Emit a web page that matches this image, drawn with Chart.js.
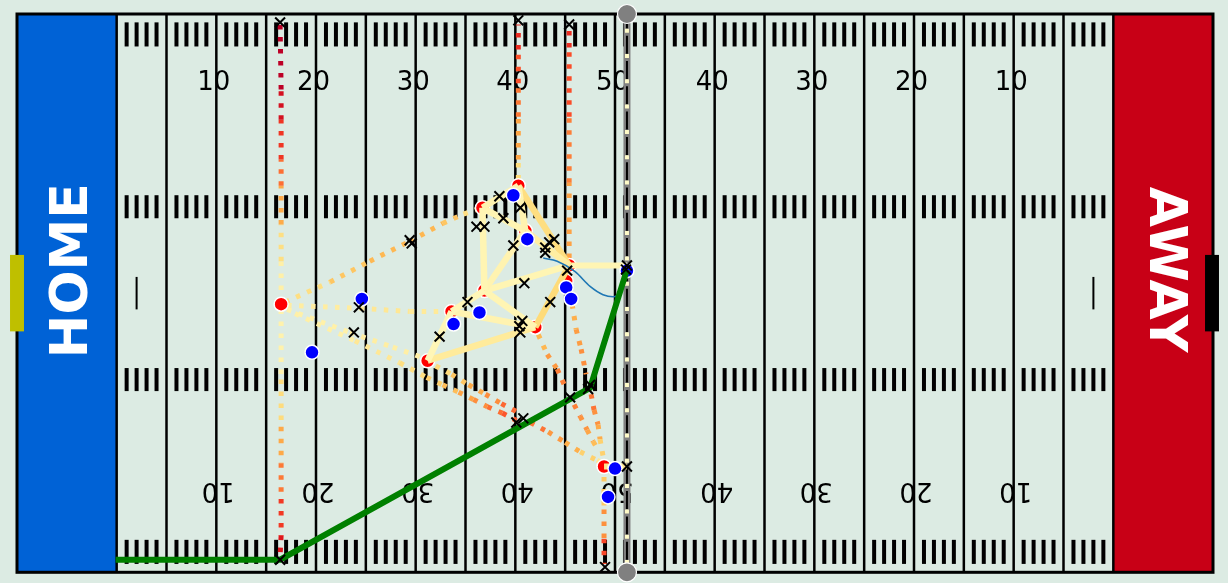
<!DOCTYPE html>
<html>
<head>
<meta charset="utf-8">
<script src="https://cdn.jsdelivr.net/npm/chart.js@4.4.1/dist/chart.umd.min.js"></script>
<style>
html,body{margin:0;padding:0;background:#dcebe3;overflow:hidden;}
canvas{display:block;}
</style>
</head>
<body>
<canvas id="c" width="1228" height="583"></canvas>
<script>
// ---------------- DATA (field coordinates: x yards 0-120, y yards 0-53.3) ----------------
const fieldLength = 120;
const fieldWidth = 53.3;
const yardLines = [10,15,20,25,30,35,40,45,50,55,60,65,70,75,80,85,90,95,100,105,110];
const hashOffsets = [1,2,3,4];
const hashRows = [[0.8,3.1],[17.3,19.5],[33.8,36.0],[50.2,52.5]];
const numberYards = [20,30,40,50,60,70,80,90,100];
const numberLabels = ['10','20','30','40','50','40','30','20','10'];
const patMarks = [12,108];
const endZoneLabels = ['HOME','AWAY'];

const offenseX = [26.5, 41.2, 43.6, 46.9, 46.7, 50.3, 51.0, 55.4, 52.0, 58.9, 55.1];
const offenseY = [25.6, 20.2, 24.9, 26.9, 34.8, 36.9, 32.6, 29.3, 23.4, 10.1, 27.8];

const defenseX = [34.6, 29.6, 43.8, 46.4, 49.8, 51.2, 55.1, 55.6, 61.2, 60.0, 59.3];
const defenseY = [26.1, 21.0, 23.7, 24.8, 36.0, 31.8, 27.2, 26.1, 28.8, 9.9, 7.2];

const endX = [26.4, 50.3, 55.4, 59.0, 61.2, 61.2, 61.1, 34.3, 33.8, 42.4, 39.4, 39.6, 45.2, 46.1, 46.9, 48.4, 48.8, 50.5, 49.8, 50.9, 50.7, 50.4, 50.5, 53.5, 53.0, 53.4, 53.9, 53.0, 55.2, 57.5, 57.3, 55.5, 50.1, 50.8, 26.4];
const endY = [52.5, 52.7, 52.3, 0.5, 10.1, 29.3, 28.9, 25.3, 22.9, 22.5, 31.7, 31.4, 25.8, 33.0, 33.0, 35.9, 33.8, 34.8, 31.2, 27.6, 24.0, 23.5, 22.9, 25.8, 30.5, 31.5, 31.8, 31.0, 28.8, 17.9, 17.5, 16.7, 14.3, 14.7, 1.2];

const ballX = [9.9, 26.4, 57.5, 61.2];
const ballY = [1.2, 1.2, 17.6, 28.9];

const curveX = [52.8, 54.2, 56.0, 57.5, 58.8, 59.8, 60.5, 61.2];
const curveY = [30.0, 29.7, 28.7, 27.3, 26.5, 26.3, 26.7, 28.7];

const scrimmageX = 61.2;

// routes: [x, y, time fraction]
const route1 = [[26.5,25.8,0.08],[26.5,29.7,0.13],[26.5,33.2,0.3],[26.5,36.9,0.5],[26.5,39.4,0.62],[26.5,43.2,0.75],[26.5,46.1,0.85],[26.4,52.3,0.9]];
const route2 = [[26.5,25.1,0.05],[26.5,18.4,0.13],[26.5,13.9,0.33],[26.5,10.4,0.48],[26.5,7.0,0.6],[26.5,3.5,0.75],[26.4,1.6,0.78]];
const route3 = [[26.9,25.8,0.15],[31.4,27.7,0.28],[35.4,29.7,0.34],[39.4,31.6,0.37],[42.7,33.3,0.35],[44.8,34.2,0.27],[46.3,34.7,0.15]];
const route4 = [[27.1,25.5,0.1],[34.4,25.2,0.15],[39.4,24.9,0.17],[43.0,24.9,0.12]];
const route5 = [[27.1,25.1,0.08],[33.4,22.9,0.12],[37.7,21.5,0.12],[40.7,20.5,0.1]];
const route6 = [[27.9,24.7,0.08],[33.9,22.1,0.13],[38.4,20.0,0.18],[41.1,18.6,0.25],[42.7,17.9,0.3],[44.3,17.2,0.38],[45.8,16.5,0.47],[47.2,15.8,0.52],[48.7,15.2,0.6],[50.1,14.5,0.62]];
const route7 = [[42.0,19.7,0.2],[43.6,18.9,0.27],[45.3,17.9,0.35],[47.0,17.0,0.45],[48.6,16.1,0.55],[50.2,15.3,0.6]];
const route8 = [[52.3,22.7,0.3],[53.2,20.8,0.42],[54.2,19.4,0.5],[55.2,17.3,0.55]];
const route9 = [[51.5,14.3,0.6],[53.3,13.4,0.5],[55.0,12.4,0.42],[56.5,11.5,0.35],[58.2,10.7,0.2],[58.7,10.4,0.12]];
const route10 = [[57.6,17.0,0.58],[57.9,15.5,0.52],[58.3,14.1,0.45],[58.5,12.7,0.35],[58.8,11.1,0.2]];
const route11 = [[55.4,30.0,0.38],[55.4,37.2,0.48],[55.4,43.5,0.58],[55.4,50.1,0.68],[55.4,52.1,0.72]];
const route12 = [[50.3,37.5,0.12],[50.3,39.4,0.33],[50.3,43.5,0.5],[50.3,46.7,0.58],[50.3,49.9,0.66],[50.3,52.3,0.75]];
const route13 = [[55.7,25.6,0.35],[56.1,23.2,0.42],[56.6,21.3,0.47],[57.1,18.9,0.52]];
const route14 = [[55.9,16.0,0.55],[56.5,14.9,0.5],[57.2,13.6,0.45],[57.8,12.5,0.38],[58.4,11.5,0.3]];
const route15 = [[58.9,9.1,0.2],[58.9,6.0,0.4],[58.9,3.2,0.58],[58.9,0.8,0.7]];
const route16 = [[61.2,53.3,0.02],[61.2,0,0.02]];

// dense links between offensive players: [from, to, time fraction]
const links = [[4,5,0.08],[4,3,0.07],[5,6,0.08],[4,6,0.07],[6,7,0.12],[5,7,0.22],[3,6,0.08],[3,7,0.07],[3,2,0.06],[2,1,0.06],[3,8,0.07],[2,8,0.08],[1,8,0.14],[8,7,0.24]];
const snapLink1 = [[55.4,29.3,0.07],[61.2,29.3,0.07]];
const snapLink2 = [[58.9,10.1,0.15],[61.2,10.1,0.2]];

// ---------------- STYLE ----------------
const FIELD_BG = '#dcebe3';
const HOME_COLOR = '#0062d6';
const AWAY_COLOR = '#c80016';
const YLORRD = ['#ffffcc','#ffeda0','#fed976','#feb24c','#fd8d3c','#fc4e2a','#e31a1c','#bd0026','#800026'];

function hexToRgb(h){return [parseInt(h.slice(1,3),16),parseInt(h.slice(3,5),16),parseInt(h.slice(5,7),16)];}
const CM = YLORRD.map(hexToRgb);
function cmap(t){
  t = Math.max(0, Math.min(1, t));
  const p = t*(CM.length-1);
  const i = Math.min(CM.length-2, Math.floor(p));
  const f = p - i;
  const c = CM[i].map((v,k)=>Math.round(v + (CM[i+1][k]-v)*f));
  return `rgb(${c[0]},${c[1]},${c[2]})`;
}

function routeDataset(r, opts){
  return Object.assign({
    type:'scatter',
    data: r.map(p=>({x:p[0], y:p[1]})),
    showLine:true,
    pointRadius:0,
    borderColor: cmap(r[0][2]),
    borderWidth:5,
    borderDash:[4.5,7.5],
    borderCapStyle:'butt',
    segment:{ borderColor: c => cmap((r[c.p0DataIndex][2] + r[c.p1DataIndex][2])/2) },
    order:7
  }, opts||{});
}

const datasets = [];
// gray ball markers at LOS
datasets.push({type:'scatter', data:[{x:scrimmageX,y:fieldWidth},{x:scrimmageX,y:0}], pointRadius:9.5, pointBackgroundColor:'#808080', pointBorderColor:'#ffffff', pointBorderWidth:1.2, order:0, clip:false});
// end points
datasets.push({type:'scatter', data:endX.map((v,i)=>({x:v,y:endY[i]})), pointStyle:'crossRot', pointRadius:7, pointBorderColor:'#000', pointBorderWidth:2, order:1});
// ball path
datasets.push({type:'scatter', data:ballX.map((v,i)=>({x:v,y:ballY[i]})), showLine:true, pointRadius:0, borderColor:'#008000', borderWidth:6, order:2});
// defender curve
datasets.push({type:'scatter', data:curveX.map((v,i)=>({x:v,y:curveY[i]})), showLine:true, pointRadius:0, borderColor:'#1f77b4', borderWidth:1.6, tension:0.4, cubicInterpolationMode:'monotone', order:3});
// defense
datasets.push({type:'scatter', data:defenseX.map((v,i)=>({x:v,y:defenseY[i]})), pointRadius:7, pointBackgroundColor:'#0000ff', pointBorderColor:'#ffffff', pointBorderWidth:1.5, order:4});
// links
links.forEach(l=>{
  const a=l[0], b=l[1];
  datasets.push({type:'scatter', data:[{x:offenseX[a],y:offenseY[a]},{x:offenseX[b],y:offenseY[b]}], showLine:true, pointRadius:0, borderColor:cmap(l[2]), borderWidth:6.5, order:5});
});
[snapLink1, snapLink2].forEach(r=>datasets.push(routeDataset(r,{borderDash:[], borderWidth:6, order:5})));
// offense
datasets.push({type:'scatter', data:offenseX.map((v,i)=>({x:v,y:offenseY[i]})), pointRadius:7, pointBackgroundColor:'#ff0000', pointBorderColor:'#ffffff', pointBorderWidth:1.5, order:6});
// routes
[route1,route2,route3,route4,route5,route6,route7,route8,route9,route10,route11,route12,route13,route14,route15].forEach(r=>datasets.push(routeDataset(r)));
// line of scrimmage: pale squares, black dashes, grey band
datasets.push(routeDataset(route16,{borderWidth:4, borderDash:[4,21.3], borderDashOffset:10.6, segment:{}, borderColor:'#fffbc8', order:8, clip:false}));
datasets.push({type:'scatter', data:[{x:scrimmageX,y:fieldWidth},{x:scrimmageX,y:0}], showLine:true, pointRadius:0, borderColor:'#000', borderWidth:2, borderDash:[18,7.3], borderDashOffset:3.6, order:9});
datasets.push({type:'scatter', data:[{x:scrimmageX,y:fieldWidth},{x:scrimmageX,y:0}], showLine:true, pointRadius:0, borderColor:'#808080', borderWidth:7, order:10});

const fieldPlugin = {
  id:'field',
  beforeDatasetsDraw(chart){
    const {ctx, scales:{x, y}} = chart;
    const X = v => x.getPixelForValue(v), Y = v => y.getPixelForValue(v);
    ctx.save();
    ctx.fillStyle = FIELD_BG;
    ctx.fillRect(X(0), Y(fieldWidth), X(fieldLength)-X(0), Y(0)-Y(fieldWidth));
    ctx.fillStyle = HOME_COLOR;
    ctx.fillRect(X(0), Y(fieldWidth), X(10)-X(0), Y(0)-Y(fieldWidth));
    ctx.fillStyle = AWAY_COLOR;
    ctx.fillRect(X(110), Y(fieldWidth), X(120)-X(110), Y(0)-Y(fieldWidth));
    // hash marks
    ctx.strokeStyle = '#000'; ctx.lineCap = 'butt';
    ctx.lineWidth = 4;
    yardLines.slice(0,-1).forEach(yl=>{
      hashOffsets.forEach(o=>{
        hashRows.forEach(r=>{
          ctx.beginPath(); ctx.moveTo(X(yl+o), Y(r[0])); ctx.lineTo(X(yl+o), Y(r[1])); ctx.stroke();
        });
      });
    });
    // yard lines
    ctx.lineWidth = 2.5;
    yardLines.forEach(yl=>{
      ctx.beginPath(); ctx.moveTo(X(yl), Y(0)); ctx.lineTo(X(yl), Y(fieldWidth)); ctx.stroke();
    });
    // numbers
    ctx.fillStyle = '#000';
    ctx.font = '26px "DejaVu Sans"';
    ctx.textAlign = 'center'; ctx.textBaseline = 'middle';
    numberYards.forEach((nx,i)=>{
      ctx.fillText(numberLabels[i], X(nx - 0.25), Y(46.7));
      ctx.save(); ctx.translate(X(nx + 0.2), Y(7.9)); ctx.rotate(Math.PI); ctx.fillText(numberLabels[i], 0, 0); ctx.restore();
    });
    // PAT marks
    ctx.lineWidth = 2;
    patMarks.forEach(px=>{ ctx.beginPath(); ctx.moveTo(X(px), Y(25.1)); ctx.lineTo(X(px), Y(28.2)); ctx.stroke(); });
    // end zone labels
    ctx.fillStyle = '#ffffff';
    ctx.font = 'bold 52px "DejaVu Sans"';
    ctx.save(); ctx.translate(X(5.7), Y(28.8)); ctx.rotate(-Math.PI/2); ctx.fillText(endZoneLabels[0], 0, 0); ctx.restore();
    ctx.save(); ctx.translate(X(115.0), Y(28.9)); ctx.rotate(Math.PI/2); ctx.fillText(endZoneLabels[1], 0, 0); ctx.restore();
    // border
    ctx.lineWidth = 3;
    ctx.strokeRect(X(0), Y(fieldWidth), X(fieldLength)-X(0), Y(0)-Y(fieldWidth));
    // goal posts
    ctx.fillStyle = '#bfbf00';
    ctx.fillRect(X(-0.7), Y(30.3), X(0.7)-X(-0.7), Y(23.0)-Y(30.3));
    ctx.fillStyle = '#000';
    ctx.fillRect(X(119.2), Y(30.3), X(120.6)-X(119.2), Y(23.0)-Y(30.3));
    ctx.restore();
  }
};

new Chart(document.getElementById('c'), {
  type:'scatter',
  data:{datasets},
  options:{
    responsive:false,
    devicePixelRatio:1,
    animation:false,
    events:[],
    layout:{padding:{left:17, right:15, top:14, bottom:10}},
    plugins:{legend:{display:false}, tooltip:{enabled:false}},
    scales:{
      x:{type:'linear', min:0, max:fieldLength, display:false},
      y:{type:'linear', min:0, max:fieldWidth, display:false}
    }
  },
  plugins:[fieldPlugin]
});
</script>
</body>
</html>
